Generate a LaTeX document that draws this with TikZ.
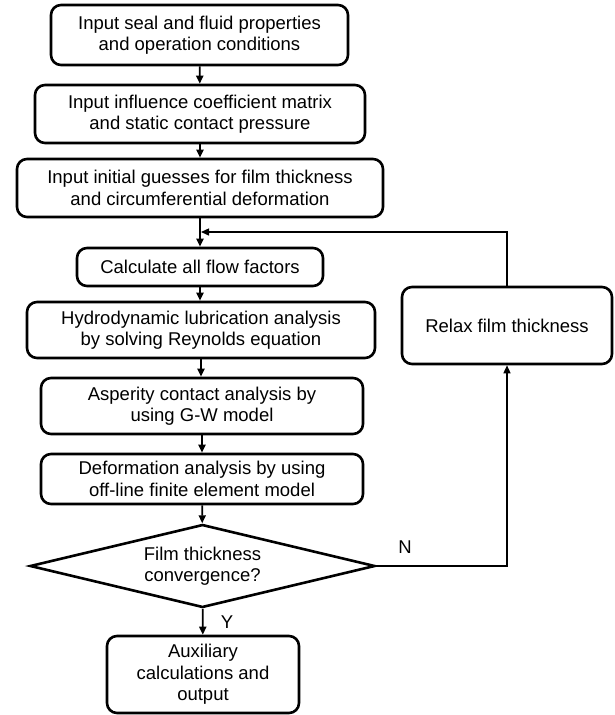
\documentclass[tikz,border=0pt]{standalone}
\usepackage{fontspec}
\setmainfont{Liberation Sans}
\usepackage{tikz}
\usetikzlibrary{shapes.geometric,arrows.meta}
\tikzset{
    flow-box/.style = {draw=black, fill=white, line width=2.6pt, rectangle, rounded corners=10pt, inner sep=0pt, align=center, font=\fontsize{18.5}{21.5}\selectfont},
    flow-decision/.style = {draw=black, fill=white, line width=2.6pt, diamond, aspect=4.2, inner sep=0pt, align=center, font=\fontsize{18.5}{21.5}\selectfont},
    flow-arrow/.style = {draw=black, line width=1.8pt, -{Triangle[length=8pt,width=7pt]}},
    flow-loop/.style = {draw=black, line width=1.4pt, -{Triangle[length=8pt,width=7pt]}},
    flow-label/.style = {font=\fontsize{18.5}{21.5}\selectfont},
}

\begin{document}
\begin{tikzpicture}[x=1pt, y=-1pt]
\useasboundingbox (0,0) rectangle (614,715);
\node[flow-box, minimum width=297pt, minimum height=60pt] (seal-input) at (199.5,35) {Input seal and fluid properties\\and operation conditions};
\node[flow-box, minimum width=330pt, minimum height=58pt] (matrix-input) at (200,114) {Input influence coefficient matrix\\and static contact pressure};
\node[flow-box, minimum width=366pt, minimum height=58pt] (guess-input) at (200,188) {Input initial guesses for film thickness\\and circumferential deformation};
\node[flow-box, minimum width=246pt, minimum height=38pt] (flow-factors) at (200,267) {Calculate all flow factors};
\node[flow-box, minimum width=348pt, minimum height=56pt] (hydro-analysis) at (201,330) {Hydrodynamic lubrication analysis\\by solving Reynolds equation};
\node[flow-box, minimum width=322pt, minimum height=56pt] (asperity-analysis) at (202,406) {Asperity contact analysis by\\using G-W model};
\node[flow-box, minimum width=322pt, minimum height=50pt] (deform-analysis) at (202,479) {Deformation analysis by using\\off-line finite element model};
\node[flow-decision, minimum width=345pt, minimum height=83pt] (converge-check) at (202.5,566) {Film thickness\\convergence?};
\node[flow-box, minimum width=192pt, minimum height=77pt] (aux-output) at (203,674.5) {Auxiliary\\calculations and\\output};
\node[flow-box, minimum width=210pt, minimum height=77pt] (relax-film) at (507,325.5) {Relax film thickness};
\node[flow-label] (yes-label) at (227,622) {Y};
\node[flow-label] (no-label) at (405,547) {N};
\coordinate (loop-join) at (201,232);

\draw[flow-arrow] (seal-input) -- (matrix-input);
\draw[flow-arrow] (matrix-input) -- (guess-input);
\draw[flow-arrow] (guess-input) -- (flow-factors);
\draw[flow-arrow] (flow-factors.south) -- (flow-factors.south |- hydro-analysis.north);
\draw[flow-arrow] (hydro-analysis.south) -- (hydro-analysis.south |- asperity-analysis.north);
\draw[flow-arrow] (asperity-analysis) -- (deform-analysis);
\draw[flow-arrow] (deform-analysis) -- (converge-check);
\draw[flow-arrow] (converge-check) -- (aux-output);
\draw[flow-loop] (converge-check.east) -| (relax-film.south);
\draw[flow-loop] (relax-film.north) |- (loop-join);
\end{tikzpicture}
\end{document}
